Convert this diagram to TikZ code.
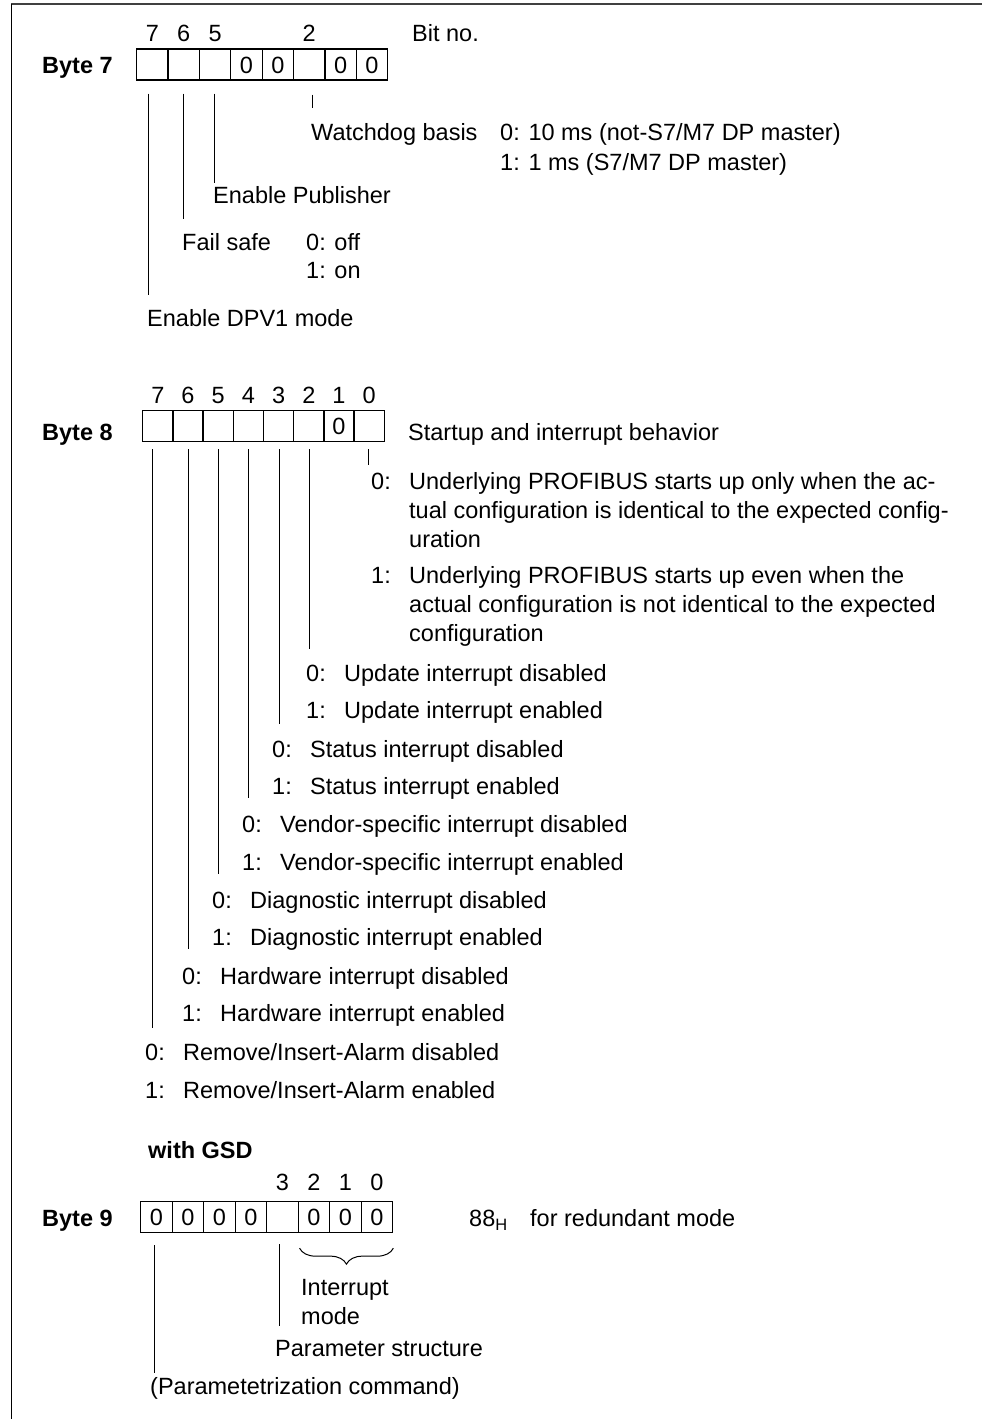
\documentclass[tikz,border=0pt]{standalone}
\usepackage{fontspec}
\setmainfont{Liberation Sans}
\usetikzlibrary{calc,decorations.pathreplacing}
\begin{document}
\begin{tikzpicture}[x=1pt,y=-1pt,
  every node/.style={font=\fontsize{23.5}{29}\selectfont},
  cell/.style={draw,line width=1.3pt,inner sep=0pt,minimum height=31pt,anchor=center},
  celltxt/.style={anchor=base,inner sep=0pt,yshift=-8.5pt},
  txt/.style={anchor=base west,inner sep=0pt,yshift=-8.5pt},
  bitno/.style={anchor=base,inner sep=0pt,yshift=-8.5pt},
  bytelbl/.style={anchor=base west,inner sep=0pt,yshift=-8.5pt,font=\fontsize{23.5}{29}\selectfont\bfseries},
  conn/.style={line width=1pt}]
\useasboundingbox (0,0) rectangle (982,1419);
% frame
\draw[line width=2pt,black!75] (982,4) -- (10.5,4);
\draw[line width=1pt] (11,4) -- (11,1419);

% ---------------- Byte 7 ----------------
\node[bytelbl] (b7) at (42,64.5) {Byte 7};
\foreach \i in {1,...,8}
  \node[cell,minimum width=31.4pt] (b7c\i) at ({136.7+31.375*(\i-0.5)},64.5) {};
\foreach \i in {4,5,7,8}
  \node[celltxt] (b7t\i) at (b7c\i.center) {0};
\node[bitno] (n77) at (b7c1 |- 0,33) {7};
\node[bitno] (n76) at (b7c2 |- 0,33) {6};
\node[bitno] (n75) at (b7c3 |- 0,33) {5};
\node[bitno] (n72) at (b7c6 |- 0,33) {2};
\node[txt] (bitno) at (412,33) {Bit no.};

\node[txt] (wd) at (311,132) {Watchdog basis};
\node[txt] (wd0) at (500,132) {0: 10 ms (not-S7/M7 DP master)};
\node[txt] (wd1) at (500,162) {1: 1 ms (S7/M7 DP master)};
\node[txt] (pub) at (213,195) {Enable Publisher};
\node[txt] (fs) at (182,242) {Fail safe};
\node[txt] (fs0) at (306,242) {0: off};
\node[txt] (fs1) at (306,270) {1: on};
\node[txt] (dpv) at (147,318) {Enable DPV1 mode};

\draw[conn] ($(b7c1.south)+(-4,13)$) -- ++(0,201);
\draw[conn] ($(b7c2.south)+(-0.5,13)$) -- ++(0,125);
\draw[conn] ($(b7c3.south)+(-1,13)$) -- ++(0,89);
\draw[conn] ($(b7c6.south)+(3,14)$) -- ++(0,13);

% ---------------- Byte 8 ----------------
\node[bytelbl] (b8) at (42,432) {Byte 8};
\foreach \i in {1,...,8}
  \node[cell,minimum width=30.2pt] (b8c\i) at ({142.7+30.2*(\i-0.5)},426) {};
\node[celltxt] (b8t7) at (b8c7.center) {0};
\foreach \b [count=\i] in {7,6,5,4,3,2,1,0}
  \node[bitno] (n8\b) at (b8c\i |- 0,395) {\b};
\node[txt] (sib) at (408,432) {Startup and interrupt behavior};

\node[txt] (s0) at (371,481) {0:};
\node[txt] (s0a) at (409,481) {Underlying PROFIBUS starts up only when the ac-};
\node[txt] (s0b) at (409,510) {tual configuration is identical to the expected config-};
\node[txt] (s0c) at (409,539) {uration};
\node[txt] (s1) at (371,575) {1:};
\node[txt] (s1a) at (409,575) {Underlying PROFIBUS starts up even when the};
\node[txt] (s1b) at (409,604) {actual configuration is not identical to the expected};
\node[txt] (s1c) at (409,633) {configuration};

\node[txt] (u0) at (306,673) {\makebox[38pt][l]{0:}Update interrupt disabled};
\node[txt] (u1) at (306,710) {\makebox[38pt][l]{1:}Update interrupt enabled};
\node[txt] (st0) at (272,749) {\makebox[38pt][l]{0:}Status interrupt disabled};
\node[txt] (st1) at (272,786) {\makebox[38pt][l]{1:}Status interrupt enabled};
\node[txt] (v0) at (242,824) {\makebox[38pt][l]{0:}Vendor-specific interrupt disabled};
\node[txt] (v1) at (242,862) {\makebox[38pt][l]{1:}Vendor-specific interrupt enabled};
\node[txt] (d0) at (212,900) {\makebox[38pt][l]{0:}Diagnostic interrupt disabled};
\node[txt] (d1) at (212,937) {\makebox[38pt][l]{1:}Diagnostic interrupt enabled};
\node[txt] (h0) at (182,976) {\makebox[38pt][l]{0:}Hardware interrupt disabled};
\node[txt] (h1) at (182,1013) {\makebox[38pt][l]{1:}Hardware interrupt enabled};
\node[txt] (r0) at (145,1052) {\makebox[38pt][l]{0:}Remove/Insert-Alarm disabled};
\node[txt] (r1) at (145,1090) {\makebox[38pt][l]{1:}Remove/Insert-Alarm enabled};

\draw[conn] ($(b8c1.south)+(-5.5,7)$) -- ++(0,579);
\draw[conn] ($(b8c2.south)+(0.3,7)$) -- ++(0,500);
\draw[conn] ($(b8c3.south)+(0.1,7)$) -- ++(0,425);
\draw[conn] ($(b8c4.south)+(0,7)$) -- ++(0,349);
\draw[conn] ($(b8c5.south)+(0.5,7)$) -- ++(0,275);
\draw[conn] ($(b8c6.south)+(0.3,7)$) -- ++(0,200);
\draw[conn] ($(b8c8.south)+(-1,7)$) -- ++(0,16);

% ---------------- Byte 9 ----------------
\node[bytelbl] (gsd) at (148,1150) {with GSD};
\node[bytelbl] (b9) at (42,1218) {Byte 9};
\foreach \i in {1,...,8}
  \node[cell,minimum width=31.5pt] (b9c\i) at ({140.7+31.5*(\i-0.5)},1217) {};
\foreach \i in {1,2,3,4,6,7,8}
  \node[celltxt] (b9t\i) at (b9c\i.center) {0};
\foreach \b [count=\i from 5] in {3,2,1,0}
  \node[bitno] (n9\b) at (b9c\i |- 0,1182) {\b};
\node[txt] (hex) at (469,1218) {88\textsubscript{H}};
\node[txt] (red) at (530,1218) {for redundant mode};

\draw[line width=1pt,decorate,decoration={brace,amplitude=16pt}]
  ($(b9c8.south east)+(0,15)$) -- ($(b9c6.south west)+(2,15)$);
\node[txt] (im1) at (301,1287) {Interrupt};
\node[txt] (im2) at (301,1316) {mode};
\node[txt] (ps) at (275,1348) {Parameter structure};
\node[txt] (pc) at (150,1386) {(Parametetrization command)};

\draw[conn] ($(b9c1.south)+(-1.5,12)$) -- ++(0,128);
\draw[conn] ($(b9c5.south)+(-3,11)$) -- ++(0,82);
\end{tikzpicture}
\end{document}
